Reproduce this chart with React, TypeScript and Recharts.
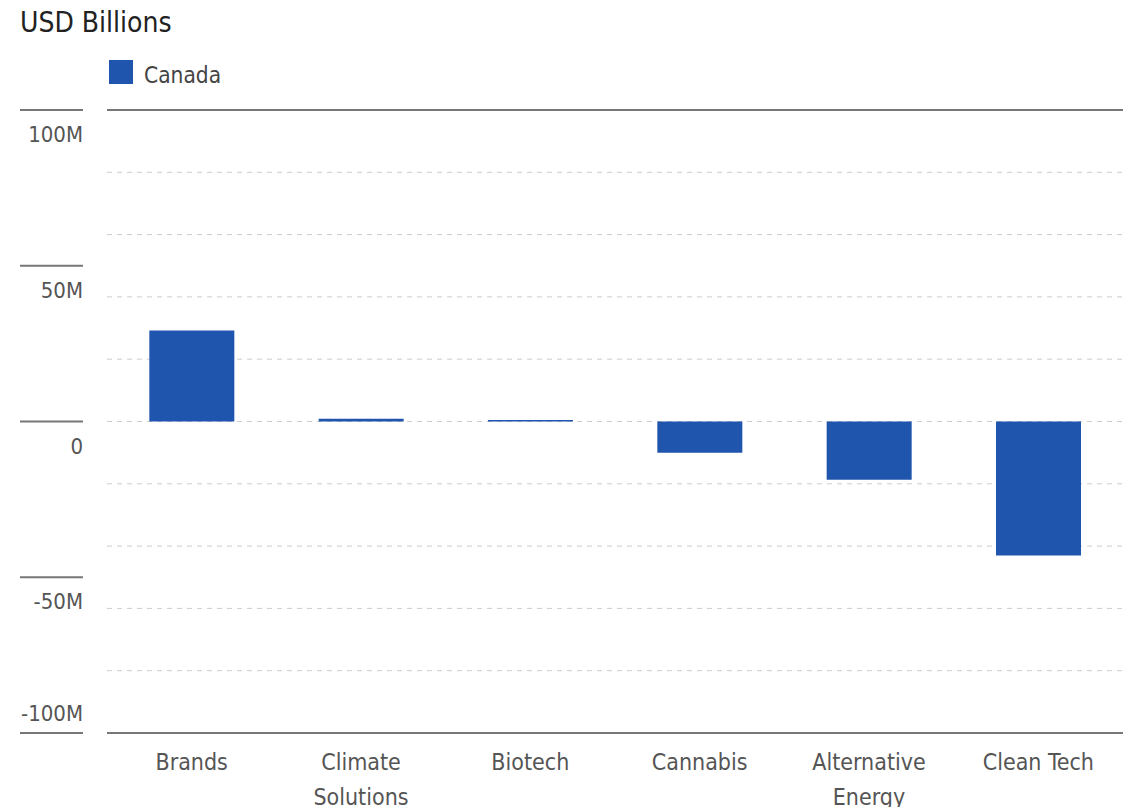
import { BarChart, Bar, XAxis, YAxis, CartesianGrid, ReferenceLine } from "recharts";

const categories = ["Brands", "Climate Solutions", "Biotech", "Cannabis", "Alternative Energy", "Clean Tech"];
const canada = [29.2e6, 0.9e6, 0.5e6, -10e6, -18.7e6, -43e6];
const xTickLines = [["Brands"], ["Climate", "Solutions"], ["Biotech"], ["Cannabis"], ["Alternative", "Energy"], ["Clean Tech"]];
const yTicks = [100e6, 50e6, 0, -50e6, -100e6];
const yTickLabels = ["100M", "50M", "0", "-50M", "-100M"];
const gridValues = [80e6, 60e6, 40e6, 20e6, 0, -20e6, -40e6, -60e6, -80e6];

const data = categories.map((name, i) => ({ name, canada: canada[i] }));

const FONT = "'Liberation Sans Narrow', 'DejaVu Sans Condensed', 'Roboto', sans-serif";

const YTick = (props: any) => {
  const { y, payload } = props;
  const i = yTicks.indexOf(payload.value);
  const label = yTickLabels[i];
  const below = payload.value !== -100e6;
  return (
    <g>
      <line x1={20} x2={83} y1={y} y2={y} stroke="#777" strokeWidth={2} />
      <text x={83} y={below ? y + 32 : y - 12} textAnchor="end" fill="#555" fontSize={22} fontFamily={FONT}>
        {label}
      </text>
    </g>
  );
};

const XTick = (props: any) => {
  const { x, y, index } = props;
  const lines = xTickLines[index] || [];
  return (
    <g>
      {lines.map((l, k) => (
        <text key={k} x={x} y={y + 29 + k * 35} textAnchor="middle" fill="#555" fontSize={23} fontFamily={FONT}>
          {l}
        </text>
      ))}
    </g>
  );
};

export default function App() {
  return (
    <div style={{ position: "absolute", left: 0, top: 0, width: 1133, height: 807, background: "#fff" }}>
      <div style={{ position: "absolute", left: 20, top: 6, fontFamily: FONT, fontSize: 28, color: "#222" }}>USD Billions</div>
      <div style={{ position: "absolute", left: 109, top: 59, display: "flex", alignItems: "center", fontFamily: FONT, fontSize: 22.5, color: "#444" }}>
        <span style={{ width: 24, height: 24, background: "#1f55ad", display: "inline-block", marginRight: 11 }} />
        <span style={{ position: "relative", top: 3 }}>Canada</span>
      </div>
      <BarChart width={1133} height={807} data={data} margin={{ top: 110, right: 10, bottom: 0, left: 0 }} barCategoryGap="25%">
        <CartesianGrid vertical={false} horizontalValues={gridValues} stroke="#ccc" strokeDasharray="5 5" />
        <XAxis dataKey="name" height={74} axisLine={{ stroke: "#777", strokeWidth: 2 }} tickLine={false} tick={<XTick />} interval={0} />
        <YAxis width={107} type="number" domain={[-100e6, 100e6]} ticks={yTicks} axisLine={false} tickLine={false} tick={<YTick />} />
        <ReferenceLine y={100e6} stroke="#777" strokeWidth={2} />
        <Bar dataKey="canada" fill="#1f55ad" isAnimationActive={false} />
      </BarChart>
    </div>
  );
}
